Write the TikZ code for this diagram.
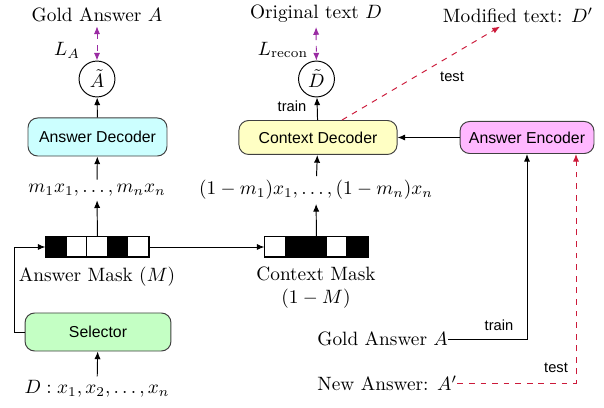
\documentclass[tikz,border=0pt]{standalone}
\usepackage{fontspec}
\newfontfamily\arialf{Liberation Sans}
\usetikzlibrary{arrows.meta,calc}
\definecolor{cyanbox}{HTML}{CCFFFF}
\definecolor{yelbox}{HTML}{FFFFC4}
\definecolor{pinkbox}{HTML}{FFB8FF}
\definecolor{greenbox}{HTML}{C4FFC4}
\definecolor{purpl}{HTML}{9A2BA3}
\definecolor{redd}{HTML}{CC1A3A}
\tikzset{
  arr/.style={line width=0.5pt,-{Latex[length=4pt,width=3.2pt]}},
  purparr/.style={purpl,line width=0.5pt,dashed,{Latex[length=4pt,width=3.2pt]}-{Latex[length=4pt,width=3.2pt]}},
  redarr/.style={redd,line width=0.5pt,dashed,-{Latex[length=4pt,width=3.2pt]}},
  box/.style={draw=black!75,line width=0.5pt,rounded corners=5pt,font=\arialf\fontsize{8.2}{10}\selectfont,inner sep=0pt},
  lbl/.style={font=\arialf\fontsize{7.6}{9}\selectfont,inner sep=1pt},
  circ/.style={draw,circle,line width=0.5pt,minimum size=18.6pt,inner sep=0pt},
  mask/.style={draw,line width=0.5pt,minimum width=53.4pt,minimum height=10.4pt,inner sep=0pt},
  txt/.style={inner sep=2pt}
}
\begin{document}
\begin{tikzpicture}[x=0.5181pt,y=-0.5181pt]
\useasboundingbox (0,0) rectangle (604,408);
% left column
\node[txt] (goldA) at (97,15) {Gold Answer $A$};
\node[txt] (LA) at (67,50) {$L_A$};
\node[circ] (Atil) at (97,79) {$\tilde{A}$};
\node[box,fill=cyanbox,minimum width=72pt,minimum height=19.7pt] (ansdec) at (97.5,137) {Answer Decoder};
\node[txt] (mtext) at (97,190) {$m_1x_1,\ldots,m_nx_n$};
\node[mask] (amask) at (97.5,247) {};
\foreach \i/\c in {0/black,1/white,2/white,3/black,4/white}{
  \filldraw[fill=\c,draw=black,line width=0.5pt] ($(amask.north west)+(\i*20.6,0)$) rectangle ++(20.6,20);
}
\node[txt] (amlabel) at (97,277) {Answer Mask ($M$)};
\node[box,fill=greenbox,minimum width=75.6pt,minimum height=19.7pt] (sel) at (98,332) {Selector};
\node[txt] (Dtext) at (97,389) {$D: x_1, x_2, \ldots, x_n$};
\coordinate (sbend) at (14,332);
% middle column
\node[txt] (origD) at (316,14) {Original text $D$};
\node[txt] (Lrec) at (283,50) {$L_{\mathrm{recon}}$};
\node[circ] (Dtil) at (316.5,79) {$\tilde{D}$};
\node[lbl] (train1) at (292,106) {train};
\node[box,fill=yelbox,minimum width=81.9pt,minimum height=17.6pt] (ctxdec) at (318,137.5) {Context Decoder};
\node[txt] (cmtext) at (316,190) {$(1-m_1)x_1,\ldots,(1-m_n)x_n$};
\node[mask] (cmask) at (316.5,247) {};
\foreach \i/\c in {0/white,1/black,2/black,3/white,4/black}{
  \filldraw[fill=\c,draw=black,line width=0.5pt] ($(cmask.north west)+(\i*20.6,0)$) rectangle ++(20.6,20);
}
\node[txt,align=center] (cmlabel) at (316,288) {Context Mask\\($1-M$)};
% right column
\node[txt] (modtext) at (518,15) {Modified text: $D'$};
\node[lbl] (test1) at (452,77) {test};
\node[box,fill=pinkbox,minimum width=69.4pt,minimum height=16.6pt] (enc) at (527,137.5) {Answer Encoder};
\node[txt,anchor=west,inner sep=0pt] (goldA2) at (317,339) {Gold Answer $A$};
\node[lbl] (train2) at (499,325) {train};
\node[txt,anchor=west,inner sep=0pt] (newA) at (317,383) {New Answer: $A'$};
\node[lbl] (test2) at (556,368) {test};
% connectors
\draw[purparr] (goldA) -- (Atil);
\draw[arr] (ansdec) -- (Atil);
\draw[arr] (mtext) -- (ansdec);
\draw[arr] (amask) -- (mtext);
\draw[arr] (amask) -- (cmask);
\draw[arr] (sel.west) -- (sbend) |- (amask.west);
\draw[arr] (Dtext) -- (sel);
\draw[purparr] (origD) -- (Dtil);
\draw[arr] (ctxdec) -- (Dtil);
\draw[arr] (cmtext) -- (ctxdec);
\draw[arr] (cmask) -- (cmtext);
\draw[arr] (enc) -- (ctxdec);
\draw[arr] (goldA2.east) -| (enc.south);
\draw[redarr] (newA.east) -| ($(enc.south)+(49,0)$);
\draw[redarr] ($(ctxdec.north)+(24,0)$) -- ($(modtext.south)+(-18,0)$);
\end{tikzpicture}
\end{document}
